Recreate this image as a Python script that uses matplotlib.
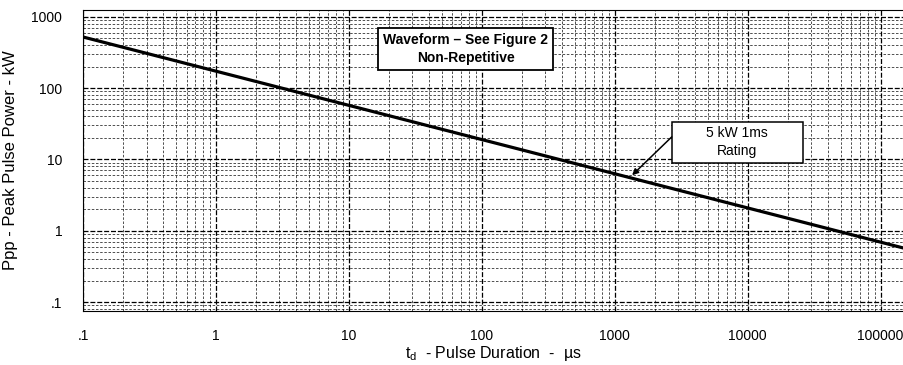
import matplotlib
matplotlib.use('Agg')
import matplotlib.pyplot as plt
import matplotlib.patches as mpatches
from matplotlib.ticker import FixedLocator, LogLocator, NullFormatter

plt.rcParams['font.family'] = ['Liberation Sans', 'DejaVu Sans']

# ── Data ──
duration_us = [0.1, 150000]
peak_power_kw = [520, 0.57]

x_ticks = [0.1, 1, 10, 100, 1000, 10000, 100000]
x_labels = ['.1', '1', '10', '100', '1000', '10000', '100000']
y_ticks = [0.1, 1, 10, 100, 1000]
y_labels = ['.1', '1', '10', '100', '1000']

rating_point = (1350, 6.0)

fig = plt.figure(figsize=(9.04, 3.65), dpi=100)
ax = fig.add_axes([0.092, 0.148, 0.908, 0.825])

ax.set_xscale('log')
ax.set_yscale('log')
ax.set_xlim(0.1, 1.5e5)
ax.set_ylim(0.075, 1250)

ax.plot(duration_us, peak_power_kw, color='black', linewidth=2.3, solid_capstyle='butt')

ax.xaxis.set_major_locator(FixedLocator(x_ticks))
ax.set_xticklabels(x_labels)
ax.yaxis.set_major_locator(FixedLocator(y_ticks))
ax.set_yticklabels(y_labels)
ax.xaxis.set_minor_locator(LogLocator(base=10, subs=range(2, 10), numticks=20))
ax.yaxis.set_minor_locator(LogLocator(base=10, subs=range(2, 10), numticks=20))
ax.xaxis.set_minor_formatter(NullFormatter())
ax.yaxis.set_minor_formatter(NullFormatter())

ax.tick_params(which='both', length=0, labelsize=10, colors='black')
ax.tick_params(axis='x', pad=13)
ax.tick_params(axis='y', pad=15)

ax.grid(which='major', color='black', linewidth=0.9, linestyle=(0, (4, 1.5)))
ax.grid(which='minor', color='black', linewidth=0.6, linestyle=(0, (3, 2)), alpha=0.8)
ax.set_axisbelow(True)
for spine in ax.spines.values():
    spine.set_linewidth(0.8)
    spine.set_linestyle((0, (4, 1)))
ax.spines['right'].set_visible(False)

ax.set_xlabel(r'$\mathregular{t_d}$  - Pulse Duration  -  µs', fontsize=11.5, labelpad=1)
ax.set_ylabel('Ppp - Peak Pulse Power - kW', fontsize=12, labelpad=10)

box = dict(boxstyle='square,pad=0.35', facecolor='white', edgecolor='black', linewidth=1.3)
ax.text(0.466, 0.87, 'Waveform – See Figure 2\nNon-Repetitive', transform=ax.transAxes,
        ha='center', va='center', fontsize=10, fontweight='bold', linespacing=1.3,
        bbox=box, zorder=5)

# "5 kW 1ms Rating" callout
ax.add_patch(mpatches.Rectangle((0.717, 0.492), 0.160, 0.136, transform=ax.transAxes,
                                facecolor='white', edgecolor='black', linewidth=1.1, zorder=5))
ax.text(0.797, 0.561, '5 kW 1ms\nRating', transform=ax.transAxes,
        ha='center', va='center', fontsize=10, linespacing=1.35, zorder=6)
ax.annotate('', xy=rating_point, xycoords='data',
            xytext=(0.717, 0.578), textcoords='axes fraction',
            arrowprops=dict(arrowstyle='-|>', color='black', linewidth=1.1,
                            shrinkA=0, shrinkB=0, mutation_scale=9),
            zorder=6)

fig.savefig('out.png', dpi=100)
